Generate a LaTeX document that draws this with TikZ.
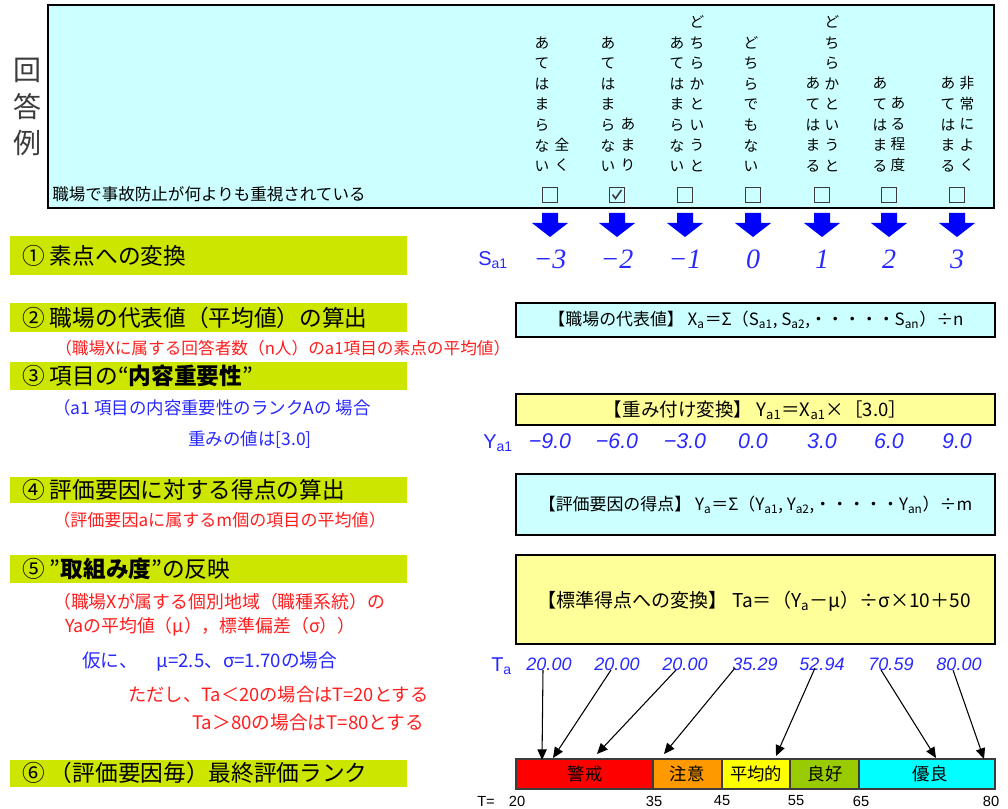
\documentclass[tikz,border=0pt]{standalone}
\usepackage{fontspec}
\setmainfont{Noto Sans CJK JP}
\newfontfamily\serifnum{Liberation Serif}
\newfontfamily\sansnum{Liberation Sans}
\usetikzlibrary{arrows.meta}
\definecolor{lcyan}{RGB}{204,255,255}
\definecolor{lyellow}{RGB}{255,255,153}
\definecolor{banner}{RGB}{204,230,0}
\definecolor{tblue}{RGB}{40,40,255}
\definecolor{tred}{RGB}{255,30,30}
\definecolor{rred}{RGB}{255,0,0}
\definecolor{rorange}{RGB}{255,153,0}
\definecolor{ryellow}{RGB}{255,255,0}
\definecolor{rgreen}{RGB}{153,204,0}
\definecolor{rcyan}{RGB}{0,255,255}
\definecolor{dgray}{RGB}{60,60,60}
\begin{document}
\begin{tikzpicture}[x=0.75pt,y=-0.75pt,
  vtxt/.style={font=\fontsize{11}{15.4}\selectfont, align=center, anchor=south, inner sep=0pt, text=black},
  bantext/.style={font=\fontsize{17}{20}\selectfont, anchor=west, inner sep=0pt},
  subred/.style={font=\fontsize{12.5}{15}\selectfont, text=tred, anchor=west, inner sep=0pt},
  subblue/.style={font=\fontsize{12.5}{15}\selectfont, text=tblue, anchor=west, inner sep=0pt},
  ftext/.style={font=\fontsize{12.7}{14}\selectfont, inner sep=0pt},
  fbox/.style={draw=black, line width=1.8pt},
  svals/.style={font=\serifnum\itshape\fontsize{21}{24}\selectfont, text=tblue, inner sep=0pt},
  yvals/.style={font=\sansnum\itshape\fontsize{16}{20}\selectfont, text=tblue, inner sep=0pt},
  tvals/.style={font=\sansnum\itshape\fontsize{13.5}{16}\selectfont, text=tblue, inner sep=0pt},
  lbl/.style={font=\sansnum\fontsize{15}{18}\selectfont, text=tblue, inner sep=0pt, anchor=west},
  cbox/.style={draw=dgray, line width=1.1pt},
  barlbl/.style={font=\fontsize{13}{15}\selectfont, inner sep=0pt},
  scl/.style={font=\sansnum\fontsize{11}{13}\selectfont, inner sep=0pt},
  tarrow/.style={draw=black, line width=0.8pt, -{Triangle[length=8pt,width=7pt]}},
  bluearrow/.style={fill=blue, draw=none}
]
\useasboundingbox (0,0) rectangle (1008,809);
\fill[white] (0,0) rectangle (1008,809);

% ---------- top answer box ----------
\filldraw[fill=lcyan, draw=black, line width=2pt] (48,5) rectangle (994,208);
\node[font=\fontsize{21}{27.5}\selectfont, align=center, text=dgray, inner sep=0pt] (kaitou) at (27,107) {回\\答\\例};
\node[font=\fontsize{12.4}{15}\selectfont, anchor=west, inner sep=0pt, text=black] (q) at (52,194) {職場で事故防止が何よりも重視されている};

% vertical captions
\node[vtxt] (c1a) at (542,172) {あ\\て\\は\\ま\\ら\\な\\い};
\node[vtxt] (c1b) at (562,172) {全\\く};
\node[vtxt] (c2a) at (608,172) {あ\\て\\は\\ま\\ら\\な\\い};
\node[vtxt] (c2b) at (628,172) {あ\\ま\\り};
\node[vtxt] (c3a) at (677,172) {あ\\て\\は\\ま\\ら\\な\\い};
\node[vtxt] (c3b) at (697,172) {ど\\ち\\ら\\か\\と\\い\\う\\と};
\node[vtxt] (c4a) at (751,172) {ど\\ち\\ら\\で\\も\\な\\い};
\node[vtxt] (c5a) at (813,172) {あ\\て\\は\\ま\\る};
\node[vtxt] (c5b) at (832,172) {ど\\ち\\ら\\か\\と\\い\\う\\と};
\node[vtxt] (c6a) at (880,172) {あ\\て\\は\\ま\\る};
\node[vtxt] (c6b) at (898,172) {あ\\る\\程\\度};
\node[vtxt] (c7a) at (948,172) {あ\\て\\は\\ま\\る};
\node[vtxt] (c7b) at (967,172) {非\\常\\に\\よ\\く};

% checkboxes
\foreach \cx in {550,617,685,753,822,889,957}{
  \draw[cbox] (\cx-7.5,187.5) rectangle (\cx+7.5,202.5);
}
\draw[dgray, line width=1.2pt] (612.5,194.5) -- (615.5,198.5) -- (621.5,190);

% blue arrows
\foreach \cx in {550,617,685,753,822,889,957}{
  \fill[bluearrow] (\cx-8,213) -- (\cx+8,213) -- (\cx+8,223) -- (\cx+18,223) -- (\cx,237) -- (\cx-18,223) -- (\cx-8,223) -- cycle;
}

% ---------- S values ----------
\node[lbl] (slbl) at (478,260) {S\textsubscript{a1}};
\node[svals] (s1) at (550,259) {−3};
\node[svals] (s2) at (617,259) {−2};
\node[svals] (s3) at (685,259) {−1};
\node[svals] (s4) at (753,259) {0};
\node[svals] (s5) at (822,259) {1};
\node[svals] (s6) at (889,259) {2};
\node[svals] (s7) at (957,259) {3};

% ---------- left banners ----------
\fill[banner] (10,236) rectangle (407,275);
\node[bantext] (b1) at (22,256) {① 素点への変換};
\fill[banner] (10,303) rectangle (407,332);
\node[bantext] (b2) at (22,318) {② 職場の代表値（平均値）の算出};
\node[subred] (r2) at (55,348) {（職場Xに属する回答者数（n人）のa1項目の素点の平均値）};
\fill[banner] (10,362) rectangle (407,390);
\node[bantext] (b3) at (22,376) {③ 項目の“\textbf{内容重要性}”};
\node[subblue, font=\fontsize{13.1}{15}\selectfont] (u3) at (53,408) {（a1 項目の内容重要性のランクAの 場合};
\node[subblue, font=\fontsize{13.1}{15}\selectfont] (u3b) at (188,440) {重みの値は[3.0]};
\fill[banner] (10,477) rectangle (407,503);
\node[bantext] (b4) at (22,490) {④ 評価要因に対する得点の算出};
\node[subred, font=\fontsize{12.8}{15}\selectfont] (r4) at (53,520) {（評価要因aに属するm個の項目の平均値）};
\fill[banner] (10,555) rectangle (407,583);
\node[bantext] (b5) at (22,569) {⑤ ”\textbf{取組み度}”の反映};
\node[subred, font=\fontsize{13.4}{15}\selectfont] (r5a) at (53,602) {（職場Xが属する個別地域（職種系統）の};
\node[subred, font=\fontsize{13.4}{15}\selectfont] (r5b) at (65,627) {Yaの平均値（μ），標準偏差（σ））};
\node[subblue, font=\fontsize{14}{15}\selectfont] (u5) at (82,662) {仮に、　μ=2.5、σ=1.70の場合};
\node[subred, font=\fontsize{13.7}{15}\selectfont] (r5c) at (128,695) {ただし、Ta＜20の場合はT=20とする};
\node[subred, font=\fontsize{14}{15}\selectfont] (r5d) at (192,722) {Ta＞80の場合はT=80とする};
\fill[banner] (10,760) rectangle (407,787);
\node[bantext] (b6) at (22,773) {⑥ （評価要因毎）最終評価ランク};

% ---------- right formula boxes ----------
\filldraw[fbox, fill=lcyan] (516,303) rectangle (995,337);
\node[ftext] (f2) at (756,320) {【職場の代表値】 X\textsubscript{a}＝Σ（S\textsubscript{a1}, S\textsubscript{a2},・・・・・S\textsubscript{an}）÷n};
\filldraw[fbox, fill=lyellow] (516,394) rectangle (995,425);
\node[ftext, font=\fontsize{13.9}{15}\selectfont] (f3) at (755.5,410) {【重み付け変換】 Y\textsubscript{a1}＝X\textsubscript{a1}×［3.0］};
\node[lbl] (ylbl) at (483,443) {Y\textsubscript{a1}};
\node[yvals] (y1) at (550,441) {−9.0};
\node[yvals] (y2) at (617,441) {−6.0};
\node[yvals] (y3) at (685,441) {−3.0};
\node[yvals] (y4) at (753,441) {0.0};
\node[yvals] (y5) at (822,441) {3.0};
\node[yvals] (y6) at (889,441) {6.0};
\node[yvals] (y7) at (957,441) {9.0};
\filldraw[fbox, fill=lcyan] (516,474) rectangle (995,535);
\node[ftext] (f4) at (755.5,505) {【評価要因の得点】 Y\textsubscript{a}＝Σ（Y\textsubscript{a1}, Y\textsubscript{a2},・・・・・Y\textsubscript{an}）÷m};
\filldraw[fbox, fill=lyellow] (516,555) rectangle (995,644);
\node[ftext, font=\fontsize{14.3}{16}\selectfont] (f5) at (754,601) {【標準得点への変換】 Ta＝（Y\textsubscript{a}－μ）÷σ×10＋50};

% ---------- T values ----------
\node[lbl] (tlbl) at (491,666) {T\textsubscript{a}};
\node[tvals] (t1) at (549,664) {20.00};
\node[tvals] (t2) at (617,664) {20.00};
\node[tvals] (t3) at (685,664) {20.00};
\node[tvals] (t4) at (755,664) {35.29};
\node[tvals] (t5) at (822,664) {52.94};
\node[tvals] (t6) at (891,664) {70.59};
\node[tvals] (t7) at (959,664) {80.00};

% ---------- rank bar ----------
\filldraw[fill=rred, draw=dgray, line width=0.8pt] (516,759) rectangle (653,789);
\filldraw[fill=rorange, draw=dgray, line width=0.8pt] (653,759) rectangle (722,789);
\filldraw[fill=ryellow, draw=dgray, line width=0.8pt] (722,759) rectangle (790,789);
\filldraw[fill=rgreen, draw=dgray, line width=0.8pt] (790,759) rectangle (859,789);
\filldraw[fill=rcyan, draw=dgray, line width=0.8pt] (859,759) rectangle (995,789);
\node[barlbl] (k1) at (585,774) {警戒};
\node[barlbl] (k2) at (687,774) {注意};
\node[barlbl] (k3) at (756,774) {平均的};
\node[barlbl] (k4) at (825,774) {良好};
\node[barlbl] (k5) at (930,774) {優良};
\node[scl, anchor=west] (teq) at (477,801) {T=};
\node[scl] (n20) at (517,801) {20};
\node[scl] (n35) at (654,801) {35};
\node[scl] (n45) at (722,801) {45};
\node[scl] (n55) at (796,801) {55};
\node[scl] (n65) at (861,801) {65};
\node[scl] (n80) at (991,801) {80};

% arrow end points
\coordinate (ts1) at (543,670); \coordinate (te1) at (542,760);
\coordinate (ts2) at (611,670); \coordinate (te2) at (553,758);
\coordinate (ts3) at (676,670); \coordinate (te3) at (597,754);
\coordinate (ts4) at (735,668); \coordinate (te4) at (664,754);
\coordinate (ts5) at (815,668); \coordinate (te5) at (776,756);
\coordinate (ts6) at (881,670); \coordinate (te6) at (936,758);
\coordinate (ts7) at (953,670); \coordinate (te7) at (984,759);
\foreach \i in {1,...,7}{ \draw[tarrow] (ts\i) -- (te\i); }
\end{tikzpicture}
\end{document}
